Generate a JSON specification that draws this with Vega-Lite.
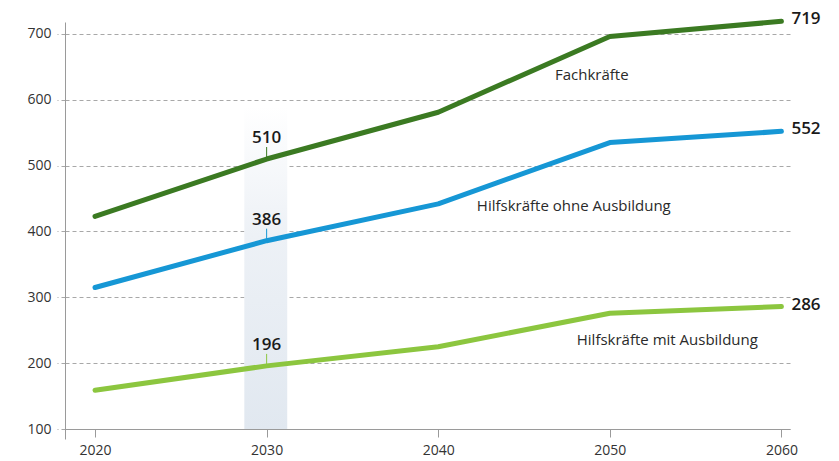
{
  "$schema": "https://vega.github.io/schema/vega-lite/v6.json",
  "autosize": {"type": "none"},
  "width": 725,
  "height": 417,
  "padding": {"left": 65, "top": 22, "right": 49, "bottom": 22},
  "background": "#ffffff",
  "config": {
    "view": {"stroke": null},
    "font": "Open Sans",
    "axis": {
      "labelFont": "Open Sans",
      "labelFontSize": 14,
      "labelColor": "#333333",
      "domainColor": "#9a9a9a",
      "domainWidth": 1,
      "title": null
    }
  },
  "datasets": {
    "werte": [
      {"jahr": 2020, "gruppe": "Fachkräfte", "wert": 423},
      {"jahr": 2030, "gruppe": "Fachkräfte", "wert": 510},
      {"jahr": 2040, "gruppe": "Fachkräfte", "wert": 581},
      {"jahr": 2050, "gruppe": "Fachkräfte", "wert": 696},
      {"jahr": 2060, "gruppe": "Fachkräfte", "wert": 719},
      {"jahr": 2020, "gruppe": "Hilfskräfte ohne Ausbildung", "wert": 315},
      {"jahr": 2030, "gruppe": "Hilfskräfte ohne Ausbildung", "wert": 386},
      {"jahr": 2040, "gruppe": "Hilfskräfte ohne Ausbildung", "wert": 442},
      {"jahr": 2050, "gruppe": "Hilfskräfte ohne Ausbildung", "wert": 535},
      {"jahr": 2060, "gruppe": "Hilfskräfte ohne Ausbildung", "wert": 552},
      {"jahr": 2020, "gruppe": "Hilfskräfte mit Ausbildung", "wert": 159},
      {"jahr": 2030, "gruppe": "Hilfskräfte mit Ausbildung", "wert": 196},
      {"jahr": 2040, "gruppe": "Hilfskräfte mit Ausbildung", "wert": 225},
      {"jahr": 2050, "gruppe": "Hilfskräfte mit Ausbildung", "wert": 276},
      {"jahr": 2060, "gruppe": "Hilfskräfte mit Ausbildung", "wert": 286}
    ],
    "band": [
      {"von": 2028.7, "bis": 2031.2, "unten": 100, "oben": 590}
    ],
    "namen": [
      {"text": "Fachkräfte", "jahr": 2048.95, "wert": 637},
      {"text": "Hilfskräfte ohne Ausbildung", "jahr": 2047.9, "wert": 439},
      {"text": "Hilfskräfte mit Ausbildung", "jahr": 2053.35, "wert": 235}
    ]
  },
  "layer": [
    {
      "data": {"name": "band"},
      "mark": {
        "type": "rect",
        "color": {
          "gradient": "linear",
          "x1": 0, "y1": 0, "x2": 0, "y2": 1,
          "stops": [
            {"offset": 0, "color": "#ffffff"},
            {"offset": 0.4, "color": "#edf1f6"},
            {"offset": 1, "color": "#e1e8f0"}
          ]
        }
      },
      "encoding": {
        "x": {
          "field": "von", "type": "quantitative",
          "scale": {"domain": [2018.25, 2060.5], "nice": false, "zero": false},
          "axis": {
            "values": [2020, 2030, 2040, 2050, 2060],
            "format": "d",
            "grid": false,
            "offset": -10,
            "tickColor": "#9a9a9a",
            "tickSize": 8,
            "labelPadding": 6
          }
        },
        "x2": {"field": "bis"},
        "y": {
          "field": "unten", "type": "quantitative",
          "scale": {"domain": [85, 718], "nice": false, "zero": false},
          "axis": {
            "values": [100, 200, 300, 400, 500, 600, 700],
            "grid": true,
            "gridColor": "#a8a8a8",
            "gridDash": [4, 3],
            "gridWidth": 1,
            "tickColor": "#a8a8a8",
            "tickDash": [4, 3],
            "tickSize": 8,
            "labelPadding": 6
          }
        },
        "y2": {"field": "oben"}
      }
    },
    {
      "data": {"name": "werte"},
      "mark": {"type": "line", "strokeWidth": 5, "strokeCap": "round", "strokeJoin": "round"},
      "encoding": {
        "x": {"field": "jahr", "type": "quantitative"},
        "y": {"field": "wert", "type": "quantitative"},
        "color": {
          "field": "gruppe", "type": "nominal",
          "scale": {
            "domain": ["Fachkräfte", "Hilfskräfte ohne Ausbildung", "Hilfskräfte mit Ausbildung"],
            "range": ["#3b7a22", "#1697d5", "#8cc63f"]
          },
          "legend": null
        }
      }
    },
    {
      "data": {"name": "werte"},
      "transform": [{"filter": "datum.jahr === 2030"}],
      "mark": {"type": "rule", "strokeWidth": 1, "y2Offset": -12},
      "encoding": {
        "x": {"field": "jahr", "type": "quantitative"},
        "y": {"field": "wert", "type": "quantitative"},
        "y2": {"field": "wert"},
        "color": {"field": "gruppe", "type": "nominal", "legend": null}
      }
    },
    {
      "data": {"name": "werte"},
      "transform": [{"filter": "datum.jahr === 2030"}],
      "mark": {
        "type": "text", "font": "Open Sans", "fontWeight": 600, "fontSize": 17,
        "color": "#1a1a1a", "align": "center", "baseline": "alphabetic", "dy": -16
      },
      "encoding": {
        "x": {"field": "jahr", "type": "quantitative"},
        "y": {"field": "wert", "type": "quantitative"},
        "text": {"field": "wert", "type": "quantitative", "format": "d"}
      }
    },
    {
      "data": {"name": "werte"},
      "transform": [{"filter": "datum.jahr === 2060"}],
      "mark": {
        "type": "text", "font": "Open Sans", "fontWeight": 600, "fontSize": 17,
        "color": "#1a1a1a", "align": "left", "baseline": "middle", "dx": 10, "dy": -2
      },
      "encoding": {
        "x": {"field": "jahr", "type": "quantitative"},
        "y": {"field": "wert", "type": "quantitative"},
        "text": {"field": "wert", "type": "quantitative", "format": "d"}
      }
    },
    {
      "data": {"name": "namen"},
      "mark": {
        "type": "text", "font": "Open Sans", "fontSize": 15,
        "color": "#2a2a2a", "align": "center", "baseline": "middle"
      },
      "encoding": {
        "x": {"field": "jahr", "type": "quantitative"},
        "y": {"field": "wert", "type": "quantitative"},
        "text": {"field": "text", "type": "nominal"}
      }
    }
  ]
}
